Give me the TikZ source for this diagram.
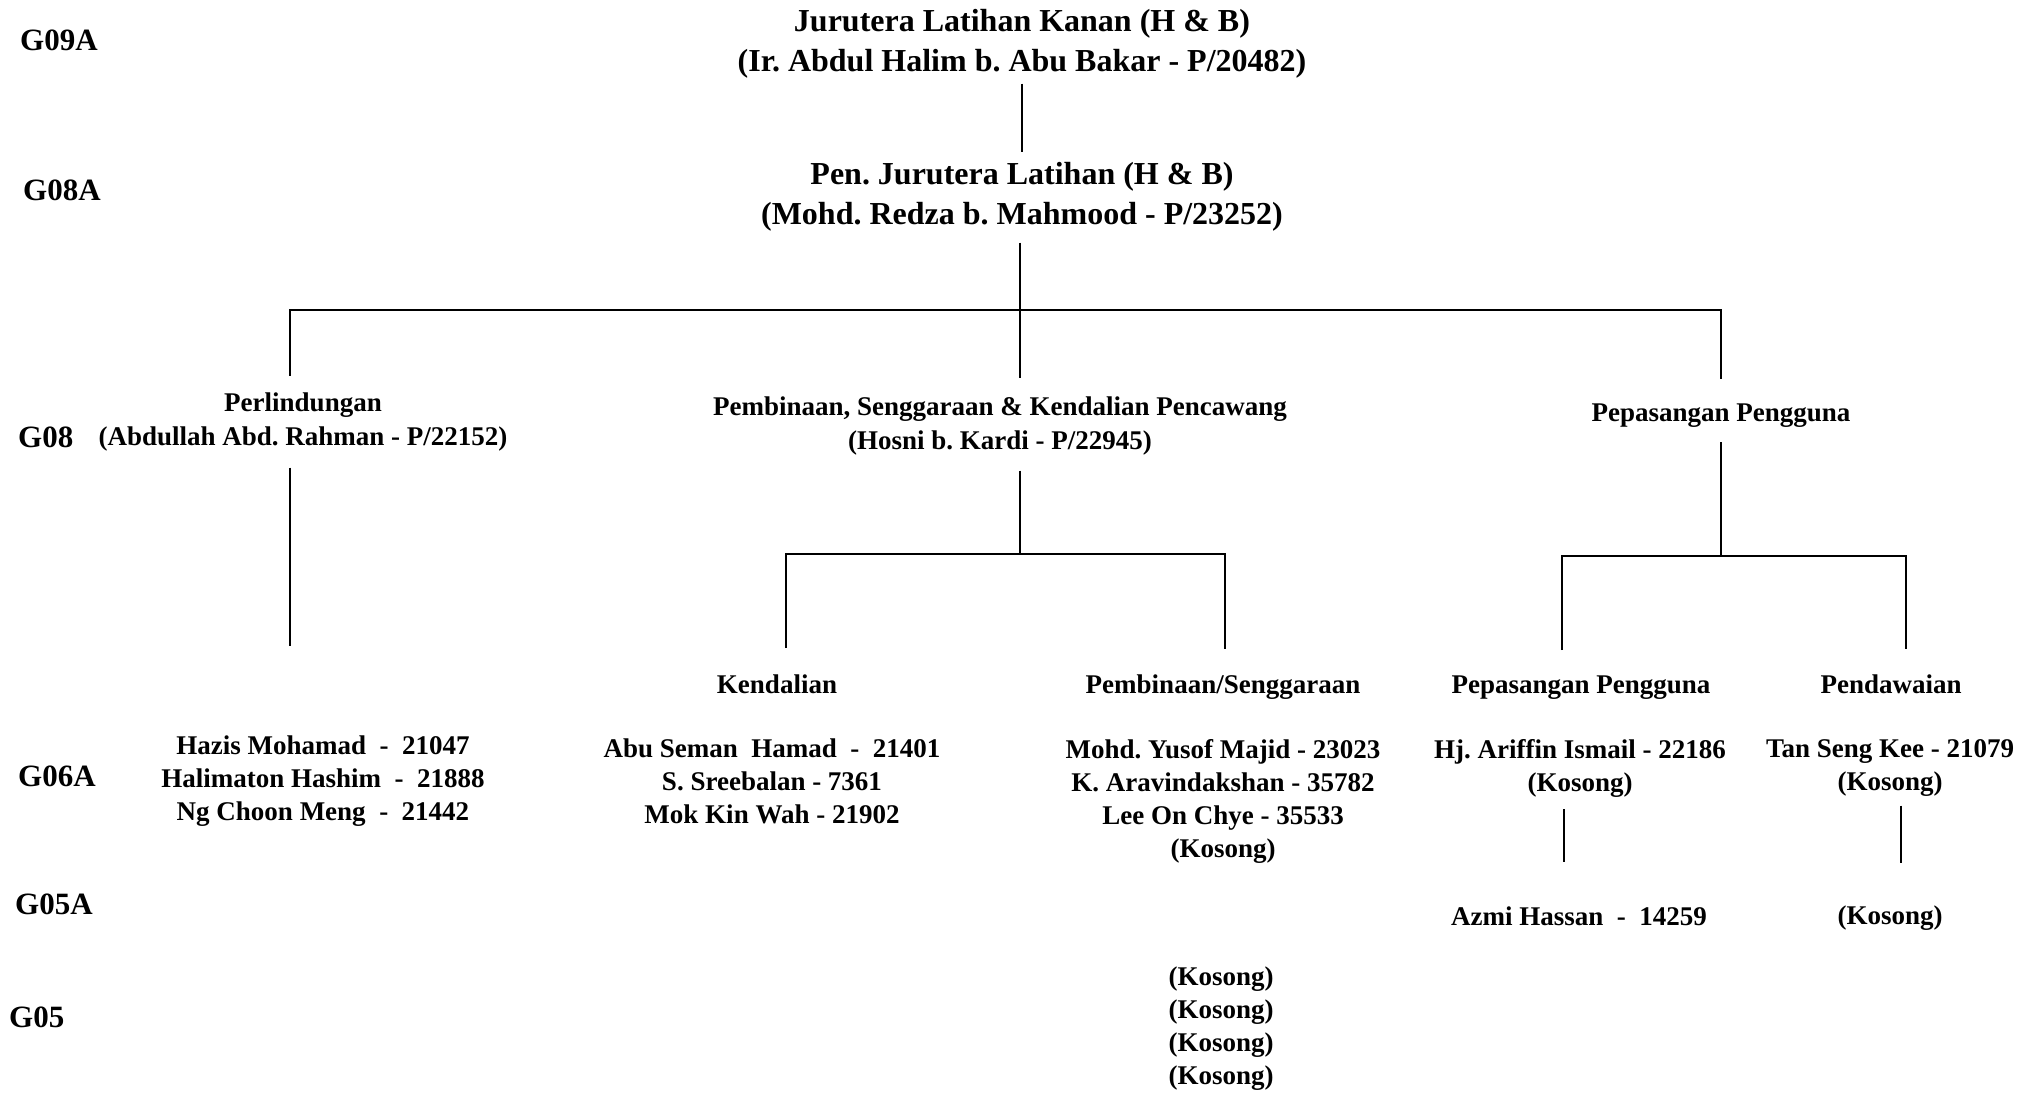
\documentclass[tikz,border=0pt]{standalone}
\usepackage{fontspec}
\setmainfont{Liberation Serif}
\frenchspacing
\begin{document}
\frenchspacing
\begin{tikzpicture}[x=1pt,y=-1pt,
  conn/.style={line width=2.5pt},
  lvl/.style={font=\bfseries\fontsize{31}{37}\selectfont, anchor=base west, inner sep=0pt},
  big/.style={font=\bfseries\fontsize{32}{40}\selectfont, align=center, inner sep=0pt},
  mid/.style={font=\bfseries\fontsize{27}{34}\selectfont, align=center, inner sep=0pt},
  lst/.style={font=\bfseries\fontsize{27}{33}\selectfont, align=center, inner sep=0pt},
  one/.style={font=\bfseries\fontsize{27}{33}\selectfont, anchor=base, inner sep=0pt}]
\useasboundingbox (0,0) rectangle (2041,1092);
\fill[white] (0,0) rectangle (2041,1092);
% grade labels
\node[lvl] (g09a) at (20,50) {G09A};
\node[lvl] (g08a) at (23,200) {G08A};
\node[lvl] (g08) at (18,447) {G08};
\node[lvl] (g06a) at (18,786) {G06A};
\node[lvl] (g05a) at (15,914) {G05A};
\node[lvl] (g05) at (9,1027) {G05};
% main nodes
\node[big] (top) at (1022,43.8) {Jurutera Latihan Kanan (H \& B)\\(Ir. Abdul Halim b. Abu Bakar - P/20482)};
\node[big] (pen) at (1022,196.8) {Pen. Jurutera Latihan (H \& B)\\(Mohd. Redza b. Mahmood - P/23252)};
\node[mid] (perl) at (303,422.3) {Perlindungan\\(Abdullah Abd. Rahman - P/22152)};
\node[mid] (pemb) at (1000,426.1) {Pembinaan, Senggaraan \& Kendalian Pencawang\\(Hosni b. Kardi - P/22945)};
\node[one] (pp) at (1721,421) {Pepasangan Pengguna};
\node[one] (kend) at (777,693) {Kendalian};
\node[one] (pbs) at (1223,693) {Pembinaan/Senggaraan};
\node[one] (pp2) at (1581,693) {Pepasangan Pengguna};
\node[one] (pdw) at (1891,693) {Pendawaian};
\node[lst] (hazis) at (323,780.7) {Hazis Mohamad\ \ -\ \ 21047\\Halimaton Hashim\ \ -\ \ 21888\\Ng Choon Meng\ \ -\ \ 21442};
\node[lst] (abu) at (772,780.9) {Abu Seman\ \ Hamad\ \ -\ \ 21401\\S. Sreebalan - 7361\\Mok Kin Wah - 21902};
\node[lst] (yusof) at (1223,801.2) {Mohd. Yusof Majid - 23023\\K. Aravindakshan - 35782\\Lee On Chye - 35533\\(Kosong)};
\node[lst] (hj) at (1580,768) {Hj. Ariffin Ismail - 22186\\(Kosong)};
\node[one] (azmi) at (1579,925) {Azmi Hassan\ \ -\ \ 14259};
\node[lst] (tan) at (1890,768) {Tan Seng Kee - 21079\\(Kosong)};
\node[one] (kos) at (1890,924) {(Kosong)};
\node[lst] (kos4) at (1221,1029) {(Kosong)\\(Kosong)\\(Kosong)\\(Kosong)};
% bar coordinates
\coordinate (barL) at (290,310);
\coordinate (barM) at (1020,310);
\coordinate (barR) at (1721,310);
\coordinate (subK) at (786,554);
\coordinate (subP) at (1225,554);
\coordinate (subA) at (1562,556);
\coordinate (subB) at (1906,556);
\coordinate (vA) at (1564,0);
\coordinate (vB) at (1901,0);
% connectors
\draw[conn, shorten <=5pt, shorten >=10pt] (top.south) -- (pen.north);
\draw[conn, shorten <=11pt] (barM |- pen.south) -- (barM);
\draw[conn, shorten <=17pt, shorten >=24pt] (barL |- perl.north) -- (barL) -- (barR) -- (barR |- pp.north);
\draw[conn, shorten >=19pt] (barM) -- (barM |- pemb.north);
\draw[conn, shorten <=16pt, shorten >=89pt] (barL |- perl.south) -- (barL |- hazis.north);
\draw[conn, shorten <=15pt] (barM |- pemb.south) -- (barM |- subK);
\draw[conn, shorten <=26pt, shorten >=25pt] (subK |- kend.north) -- (subK) -- (subP) -- (subP |- pbs.north);
\draw[conn, shorten <=15pt] (barR |- pp.south) -- (barR |- subA);
\draw[conn, shorten <=25pt, shorten >=25pt] (subA |- pp2.north) -- (subA) -- (subB) -- (subB |- pdw.north);
\draw[conn, shorten <=12pt, shorten >=44pt] (vA |- hj.south) -- (vA |- azmi.north);
\draw[conn, shorten <=9pt, shorten >=42pt] (vB |- tan.south) -- (vB |- kos.north);
\end{tikzpicture}
\end{document}
